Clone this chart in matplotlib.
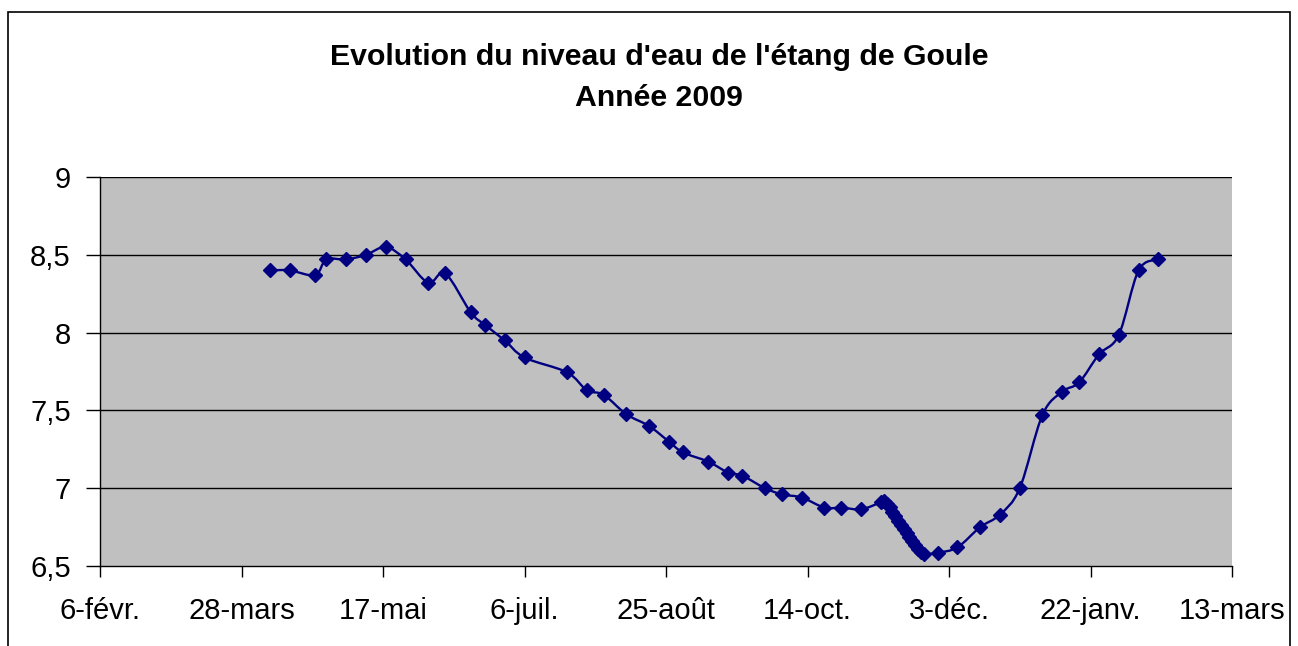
import datetime as dt
import numpy as np
import matplotlib
matplotlib.use("Agg")
import matplotlib.pyplot as plt
import matplotlib.dates as mdates
from matplotlib.path import Path
from matplotlib.patches import PathPatch, Rectangle

# releves du niveau d'eau (date, niveau)
dates = [
    "2009-04-07", "2009-04-14", "2009-04-23", "2009-04-27", "2009-05-04",
    "2009-05-11", "2009-05-18", "2009-05-25", "2009-06-02", "2009-06-08",
    "2009-06-17", "2009-06-22", "2009-06-29", "2009-07-06", "2009-07-21",
    "2009-07-28", "2009-08-03", "2009-08-11", "2009-08-19", "2009-08-26",
    "2009-08-31", "2009-09-09", "2009-09-16", "2009-09-21", "2009-09-29",
    "2009-10-05", "2009-10-12", "2009-10-20", "2009-10-26", "2009-11-02",
    "2009-11-09", "2009-11-10", "2009-11-11", "2009-11-12", "2009-11-13",
    "2009-11-14", "2009-11-15", "2009-11-16", "2009-11-17", "2009-11-18",
    "2009-11-19", "2009-11-20", "2009-11-21", "2009-11-22", "2009-11-23",
    "2009-11-24", "2009-11-29", "2009-12-06", "2009-12-14", "2009-12-21",
    "2009-12-28", "2010-01-05", "2010-01-12", "2010-01-18", "2010-01-25",
    "2010-02-01", "2010-02-08", "2010-02-15",
]
niveau = [
    8.40, 8.40, 8.37, 8.47, 8.47,
    8.50, 8.55, 8.47, 8.32, 8.38,
    8.13, 8.05, 7.95, 7.84, 7.745,
    7.63, 7.60, 7.475, 7.40, 7.30,
    7.23, 7.17, 7.10, 7.08, 7.00,
    6.96, 6.94, 6.875, 6.875, 6.865,
    6.91, 6.92, 6.90, 6.88, 6.85,
    6.82, 6.79, 6.765, 6.74, 6.71,
    6.685, 6.66, 6.635, 6.61, 6.59,
    6.575, 6.585, 6.62, 6.75, 6.83,
    7.00, 7.47, 7.62, 7.68, 7.86,
    7.985, 8.40, 8.47,
]

x_ticks = ["2009-02-06", "2009-03-28", "2009-05-17", "2009-07-06", "2009-08-25",
           "2009-10-14", "2009-12-03", "2010-01-22", "2010-03-13"]
x_labels = ["6-févr.", "28-mars", "17-mai", "6-juil.", "25-août",
            "14-oct.", "3-déc.", "22-janv.", "13-mars"]
y_ticks = [6.5, 7, 7.5, 8, 8.5, 9]
y_labels = ["6,5", "7", "7,5", "8", "8,5", "9"]

plt.rcParams['font.family'] = ['Liberation Sans', 'DejaVu Sans']

W, H = 1298, 646
fig = plt.figure(figsize=(W / 100, H / 100), dpi=100)
fig.patch.set_facecolor("white")
fig.patches.append(Rectangle((8 / W, -0.1), 1282 / W, 1.1 - 12 / H,
                             transform=fig.transFigure, fill=False,
                             edgecolor="black", linewidth=1.2))

ax = fig.add_axes([100 / W, (H - 566) / H, 1132 / W, 389 / H])
ax.set_facecolor("#C0C0C0")

xs = mdates.date2num([dt.datetime.strptime(d, "%Y-%m-%d") for d in dates])
ys = np.array(niveau)

# courbe lissee (comme Excel) : bezier type catmull-rom
pts = np.column_stack([xs, ys])
ext = np.vstack([pts[0], pts, pts[-1]])
verts = [tuple(pts[0])]
codes = [Path.MOVETO]
for i in range(len(pts) - 1):
    p0, p1, p2, p3 = ext[i], ext[i + 1], ext[i + 2], ext[i + 3]
    c1 = p1 + (p2 - p0) / 6
    c2 = p2 - (p3 - p1) / 6
    verts += [tuple(c1), tuple(c2), tuple(p2)]
    codes += [Path.CURVE4] * 3
ax.add_patch(PathPatch(Path(verts, codes), fill=False, edgecolor="#000080",
                       linewidth=1.7, zorder=3))
ax.plot(xs, ys, linestyle="none", marker="D", markersize=7.6,
        color="#000080", zorder=4)

xt = mdates.date2num([dt.datetime.strptime(d, "%Y-%m-%d") for d in x_ticks])
ax.set_xlim(xt[0], xt[-1])
ax.set_ylim(6.5, 9)
ax.set_xticks(xt)
ax.set_xticklabels(x_labels)
ax.set_yticks(y_ticks)
ax.set_yticklabels(y_labels)
ax.tick_params(axis="x", length=8, width=1, pad=14, labelsize=21)
ax.tick_params(axis="y", length=10, width=1, pad=11, labelsize=21)

for y in y_ticks[1:]:
    ax.axhline(y, color="black", linewidth=1, zorder=1)
for s in ["top", "right"]:
    ax.spines[s].set_visible(False)
ax.spines["left"].set_linewidth(1)
ax.spines["bottom"].set_linewidth(1)

fig.text(659 / W, 1 - 57 / H, "Evolution du niveau d'eau de l'étang de Goule",
         ha="center", va="center", fontsize=21.8, fontweight="bold")
fig.text(659 / W, 1 - 98 / H, "Année 2009",
         ha="center", va="center", fontsize=21.8, fontweight="bold")

fig.savefig("out.png", dpi=100)
